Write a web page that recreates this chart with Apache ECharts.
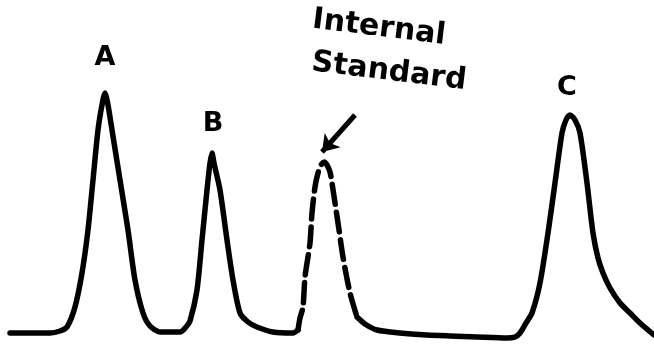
<!DOCTYPE html>
<html>
<head>
<meta charset="utf-8">
<script src="https://cdn.jsdelivr.net/npm/echarts@6/dist/echarts.min.js"></script>
<style>html,body{margin:0;padding:0;background:#fff;}#c{width:654px;height:348px;}</style>
</head>
<body>
<div id="c"></div>
<script>
// Retention time (x) and detector signal (y)
const traceA_B = [[10,15],[30,15],[50,15],[60,17],[67,21],[75,41],[82,75],[88,118],[93,168],[98,218],[102,243],[105,255],[108,243],[112,218],[120,168],[128,118],[135,68],[143,35],[150,22],[160,16],[170,16],[180,16],[186,21],[190,27],[197,58],[202,108],[207,158],[210,185],[212,195],[214,185],[220,158],[227,108],[233,68],[240,35],[248,26],[257,21],[273,16],[293,15],[298,18]];
const traceIS = [[298,18],[300,30],[303,41],[305,71],[310,105],[312,135],[315,161],[318,175],[321,183],[324,186],[327,183],[330,176],[332,165],[338,125],[343,91],[350,55],[357,31]];
const traceC = [[357,31],[365,24],[377,18],[400,15],[427,13],[450,12],[477,11],[507,10],[515,11],[520,15],[526,25],[532,35],[540,65],[548,115],[555,165],[562,215],[566,228],[570,233],[575,228],[580,215],[587,165],[593,115],[598,90],[603,75],[610,60],[620,45],[630,35],[640,25],[654,13]];
const peakNames = ['A','B','C'];
const peakLabelX = [105,213,567];
const peakLabelY = [290,224,260];
const noteLines = ['Internal','Standard'];
const noteX = [379,389];
const noteY = [320,276];
const arrowFrom = [355,233];
const arrowTo = [322,196];

const chart = echarts.init(document.getElementById('c'), null, {renderer:'canvas'});
const lineBase = {type:'line', showSymbol:false, smooth:0.25, silent:true};
const font = {fontFamily:'DejaVu Sans', fontWeight:'bold', color:'#000', opacity:1, textBorderWidth:0};
chart.setOption({
  animation:false,
  backgroundColor:'#fff',
  grid:{left:0,right:0,top:0,bottom:0},
  xAxis:{type:'value',min:0,max:654,show:false},
  yAxis:{type:'value',min:0,max:348,show:false},
  series:[
    Object.assign({}, lineBase, {data:traceA_B, lineStyle:{color:'#000',width:5.5,cap:'round',join:'round'}}),
    Object.assign({}, lineBase, {data:traceIS, lineStyle:{color:'#000',width:5.5,type:[20,8],cap:'round'},
      markLine:{silent:true, symbol:['none','arrow'], symbolSize:[16,16],
        lineStyle:{color:'#000',width:5,type:'solid'}, label:{show:false},
        data:[[{coord:arrowFrom},{coord:arrowTo}]]}}),
    Object.assign({}, lineBase, {data:traceC, lineStyle:{color:'#000',width:5.5,cap:'round',join:'round'}}),
    {type:'scatter', silent:true, symbolSize:0, itemStyle:{color:'#000'},
      data:peakNames.map((n,i)=>({name:n, value:[peakLabelX[i],peakLabelY[i]]})),
      label:Object.assign({show:true, position:'inside', formatter:p=>p.name, fontSize:27}, font)},
    {type:'scatter', silent:true, symbolSize:0, itemStyle:{color:'#000'},
      data:noteLines.map((n,i)=>({name:n, value:[noteX[i],noteY[i]]})),
      label:Object.assign({show:true, position:'inside', formatter:p=>p.name, fontSize:30, rotate:-7}, font)}
  ]
});
</script>
</body>
</html>
